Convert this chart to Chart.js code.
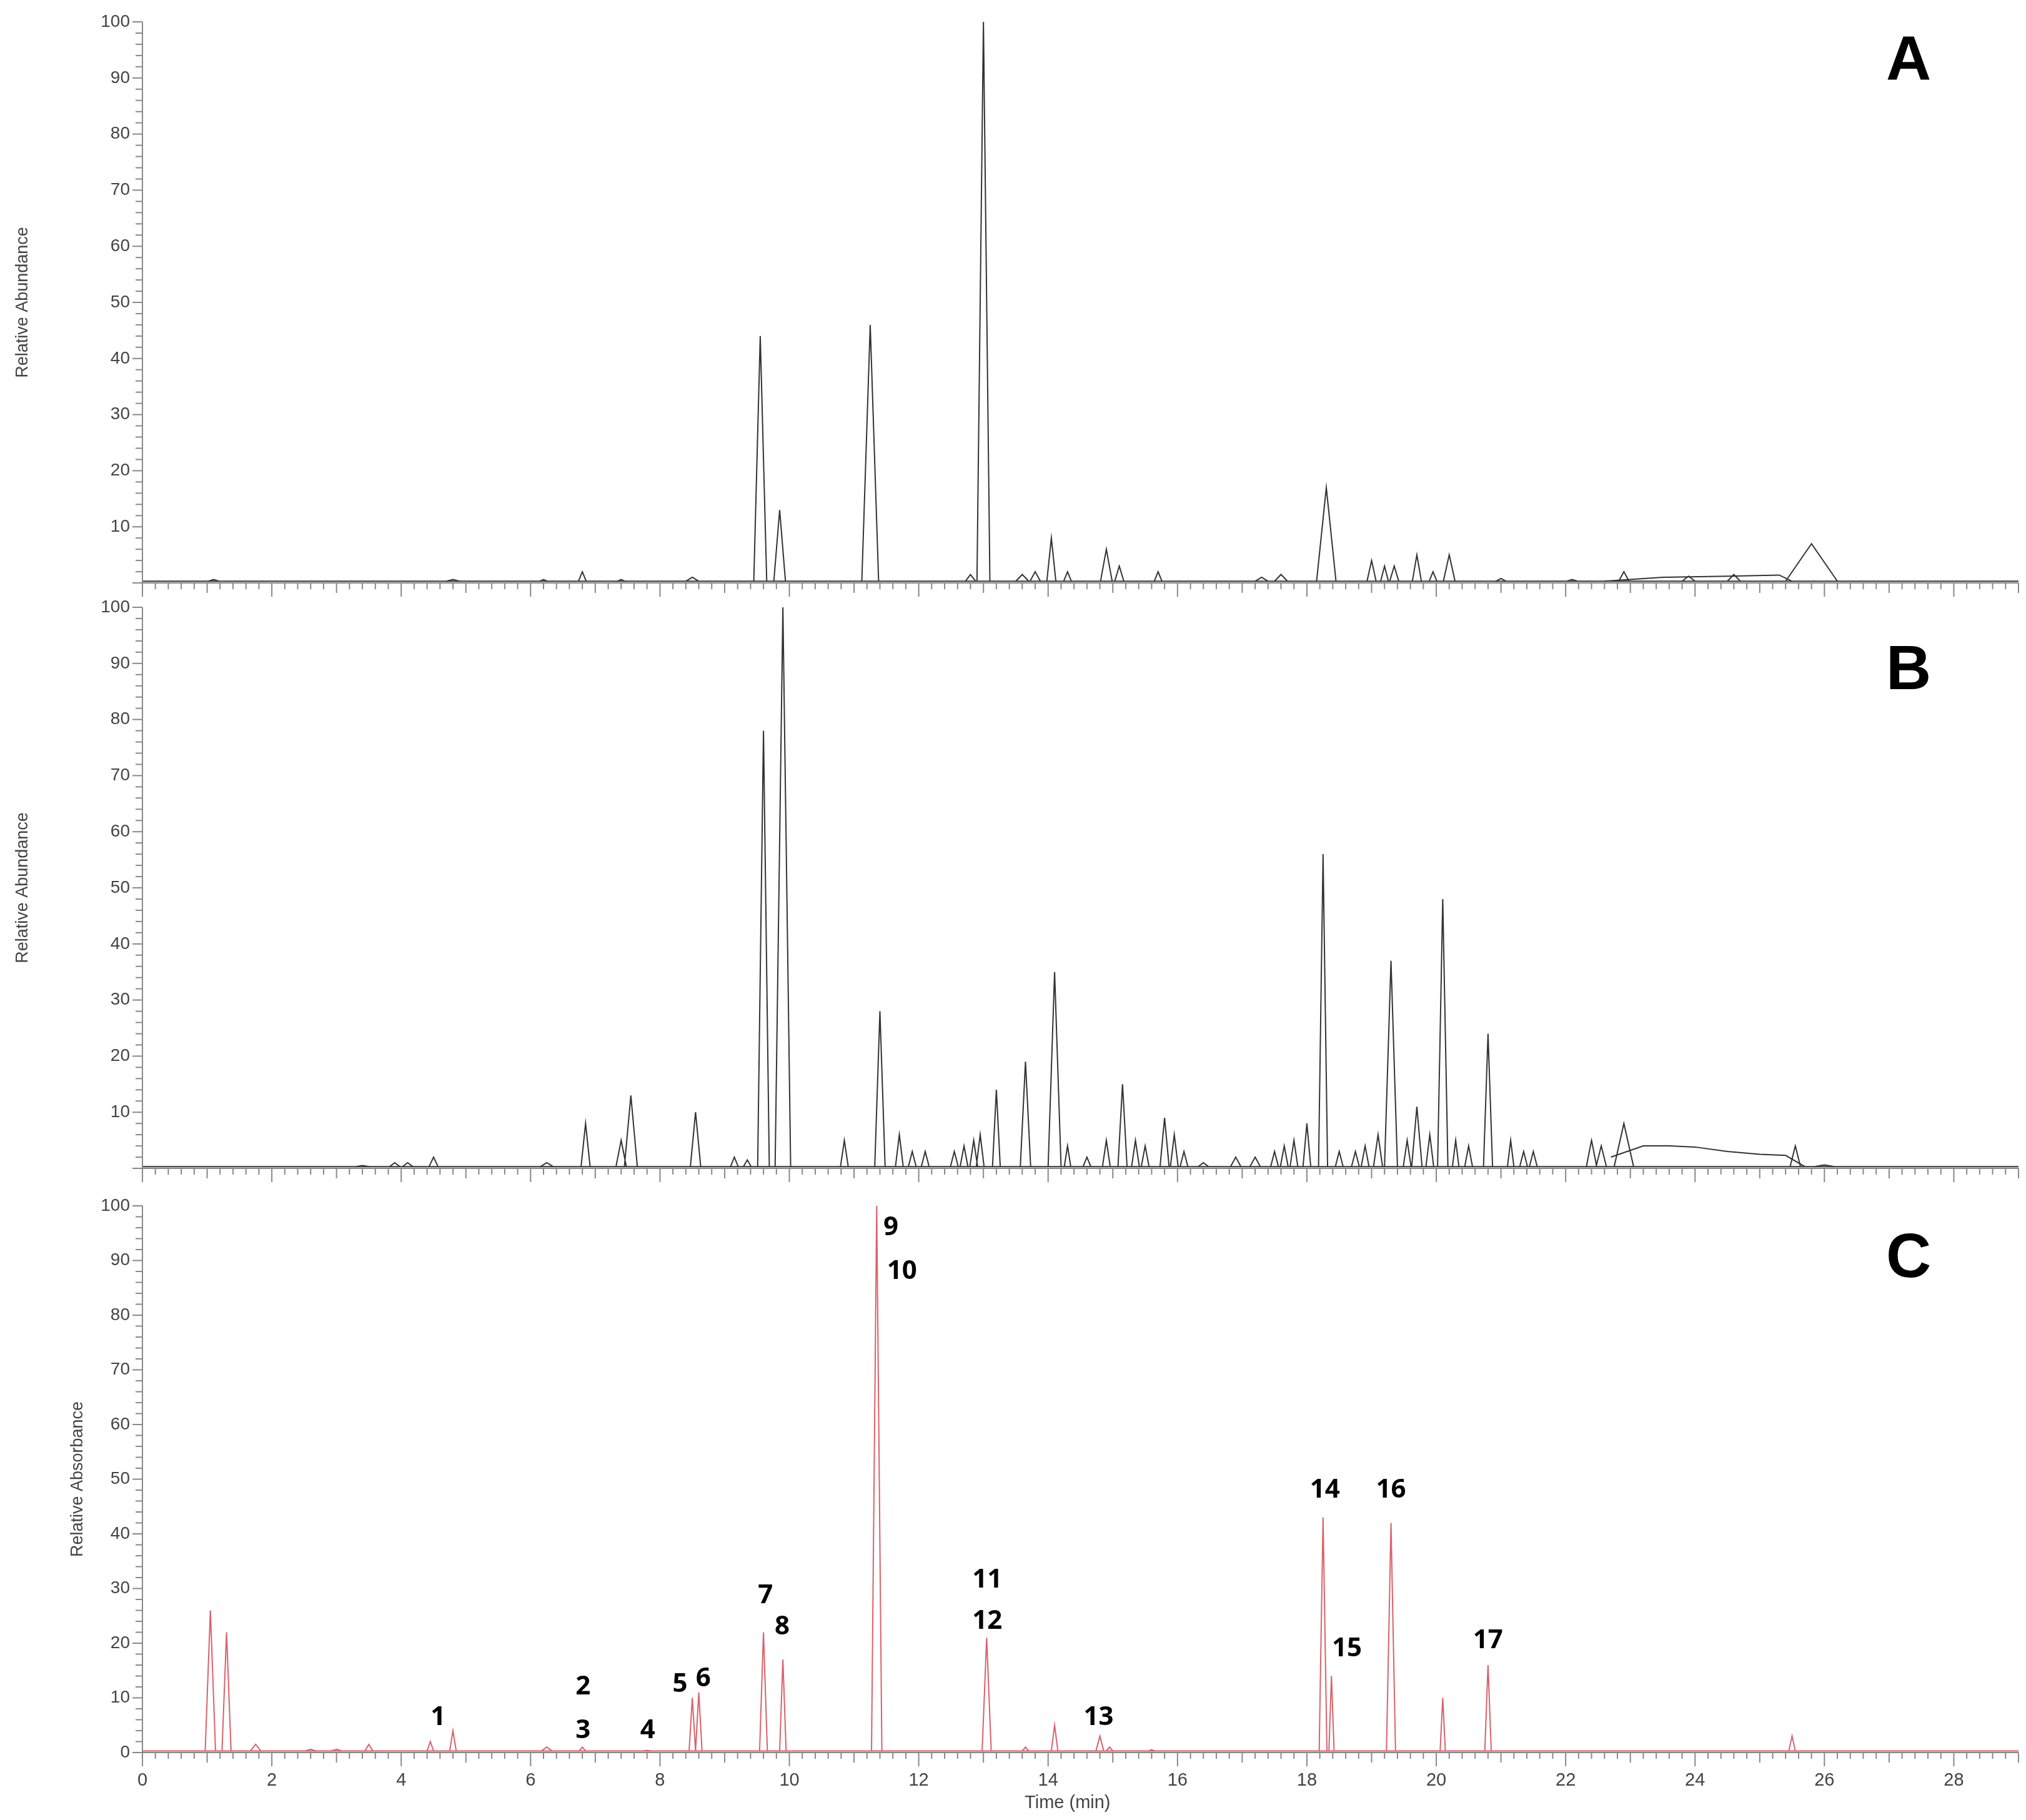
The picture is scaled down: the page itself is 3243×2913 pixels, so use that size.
<!DOCTYPE html>
<html><head><meta charset="utf-8">
<script src="https://cdn.jsdelivr.net/npm/chart.js@4"></script>
<style>body{margin:0;background:#fff;width:3243px;height:2913px;overflow:hidden}
canvas{position:absolute;left:0}</style></head><body>
<div style="position:absolute;left:0;top:0;width:3243px;height:960px"><canvas id="cA"></canvas></div>
<div style="position:absolute;left:0;top:960px;width:3243px;height:937px"><canvas id="cB"></canvas></div>
<div style="position:absolute;left:0;top:1897px;width:3243px;height:1016px"><canvas id="cC"></canvas></div>
<script>
// ---- data (retention time min, relative height %, half width min)
const peaksA_t = [1.1,4.8,6.2,6.8,7.4,8.5,9.55,9.85,11.25,12.8,13.0,13.6,13.8,14.05,14.3,14.9,15.1,15.7,17.3,17.6,18.3,19.0,19.2,19.35,19.7,19.95,20.2,21.0,22.1,22.9,23.9,24.6,25.8];
const peaksA_h = [0.6,0.6,0.6,2,0.6,1,44,13,46,1.5,100,1.5,2,8,2,6,3,2,1,1.5,17,4,3,3,5,2,5,0.8,0.6,2,1.2,1.5,7];
const peaksA_w = [0.08,0.1,0.06,0.06,0.06,0.1,0.1,0.09,0.13,0.08,0.1,0.1,0.08,0.07,0.06,0.09,0.07,0.06,0.1,0.1,0.15,0.07,0.06,0.07,0.07,0.06,0.09,0.08,0.08,0.08,0.1,0.1,0.4];
const humpA_t = [22.6,23.5,24.5,25.3,25.5];
const humpA_h = [0.3,1.0,1.2,1.4,0.3];

const peaksB_t = [3.4,3.9,4.1,4.5,6.25,6.85,7.4,7.55,8.55,9.15,9.35,9.6,9.9,10.85,11.4,11.7,11.9,12.1,12.55,12.7,12.85,12.95,13.2,13.65,14.1,14.3,14.6,14.9,15.15,15.35,15.5,15.8,15.95,16.1,16.4,16.9,17.2,17.5,17.65,17.8,18.0,18.25,18.5,18.75,18.9,19.1,19.3,19.55,19.7,19.9,20.1,20.3,20.5,20.8,21.15,21.35,21.5,22.4,22.55,22.9,25.55,26.0];
const peaksB_h = [0.5,1,1,2,1,8,5,13,10,2,1.5,78,100,5,28,6,3,3,3,4,5,6,14,19,35,4,2,5,15,5,4,9,6,3,1,2,2,3,4,5,8,56,3,3,4,6,37,5,11,6,48,5,4,24,5,3,3,5,4,8,4,0.6];
const peaksB_w = [0.1,0.08,0.08,0.07,0.1,0.07,0.08,0.1,0.08,0.06,0.06,0.09,0.12,0.06,0.08,0.06,0.06,0.06,0.06,0.06,0.06,0.06,0.06,0.08,0.1,0.05,0.06,0.06,0.07,0.06,0.06,0.07,0.06,0.06,0.08,0.08,0.08,0.06,0.06,0.06,0.06,0.07,0.06,0.06,0.06,0.07,0.1,0.06,0.08,0.06,0.08,0.05,0.06,0.07,0.05,0.06,0.06,0.08,0.08,0.15,0.08,0.15];
const humpB_t = [22.7,23.2,23.6,24.0,24.5,25.0,25.4,25.7];
const humpB_h = [2,4,4,3.8,3,2.5,2.3,0.3];

const peaksC_t = [1.05,1.3,1.75,2.6,3.0,3.5,4.45,4.8,6.25,6.8,7.8,8.5,8.6,9.6,9.9,11.35,13.05,13.65,14.1,14.8,14.95,15.6,18.25,18.38,19.3,20.1,20.8,25.5];
const peaksC_h = [26,22,1.5,0.6,0.6,1.5,2,4,1,1,0.4,10,11,22,17,100,21,1,5,3,1,0.5,43,14,42,10,16,3];
const peaksC_w = [0.08,0.07,0.08,0.08,0.08,0.06,0.05,0.05,0.08,0.05,0.05,0.05,0.05,0.06,0.05,0.08,0.07,0.05,0.05,0.06,0.05,0.05,0.06,0.04,0.07,0.04,0.05,0.05];

const labelsC = ['1','2','3','4','5','6','7','8','9','10','11','12','13','14','15','16','17'];
const labelsC_t = [4.56,6.8,6.8,7.8,8.3,8.66,9.62,9.88,11.56,11.72,13.04,13.04,14.76,18.26,18.6,19.28,20.78];
const labelsC_y = [6.4,12,4,4,12.5,13.5,28.7,23,96,88,31.5,24,6.4,48,19,48,20.4];

const xTicks = [0,2,4,6,8,10,12,14,16,18,20,22,24,26,28];
const yTicks = [10,20,30,40,50,60,70,80,90,100];

function tri(ts,hs,ws){const d=[{x:0,y:0.3}];
  for(let i=0;i<ts.length;i++){d.push({x:ts[i]-ws[i],y:0.3},{x:ts[i],y:hs[i]},{x:ts[i]+ws[i],y:0.3});}
  d.push({x:29,y:0.3});d.sort((a,b)=>a.x-b.x);return d;}
function seg(ts,hs){return ts.map((t,i)=>({x:t,y:hs[i]}));}
function peakData(ts,hs,ws){const d=[];for(let i=0;i<ts.length;i++){d.push({x:ts[i]-ws[i],y:0.3},{x:ts[i],y:hs[i]},{x:ts[i]+ws[i],y:0.3},{x:ts[i]+ws[i],y:null});}return d;}

const minorTicks={id:'minor',afterDraw(ch,args,o){const c=ch.ctx,x=ch.scales.x,y=ch.scales.y;c.save();c.strokeStyle='#888';c.lineWidth=2;
  for(let v=0;v<=100;v+=2){const p=y.getPixelForValue(v);const L=v%10===0?16:11;c.beginPath();c.moveTo(x.left-L,p);c.lineTo(x.left,p);c.stroke();}
  for(let v=0;v<=29.001;v+=0.2){const p=x.getPixelForValue(v);const r=Math.round(v*10);const L=r%20===0?22:(r%10===0?16:10);c.beginPath();c.moveTo(p,y.bottom);c.lineTo(p,y.bottom+L);c.stroke();}
  c.beginPath();c.moveTo(x.left,y.top);c.lineTo(x.left,y.bottom);c.lineTo(x.right,y.bottom);c.stroke();
  c.fillStyle='#444';c.font='28px "Liberation Sans", Arial';c.textAlign='right';c.textBaseline='middle';
  yTicks.forEach(v=>c.fillText(String(v),x.left-20,y.getPixelForValue(v)));
  if(o.zero) c.fillText('0',x.left-20,y.getPixelForValue(0));
  c.save();c.translate(o.titleX,(y.top+y.bottom)/2);c.rotate(-Math.PI/2);c.textAlign='center';c.font='27px "Liberation Sans", Arial';c.fillText(o.title,0,0);c.restore();
  c.fillStyle='#000';c.font='bold 100px "Liberation Sans", Arial';c.textAlign='center';c.textBaseline='middle';c.fillText(o.letter,3055,o.letterY);
  if(o.labels){c.font='bold 42px "Open Sans", "Liberation Sans"';c.textAlign='left';
    labelsC.forEach((s,i)=>c.fillText(s,x.getPixelForValue(labelsC_t[i])-(s.length>1?22:11),y.getPixelForValue(labelsC_y[i])));}
  if(o.xlabels){c.fillStyle='#444';c.font='29px "Liberation Sans", Arial';c.textAlign='center';c.textBaseline='top';
    xTicks.forEach(v=>c.fillText(String(v),x.getPixelForValue(v),y.bottom+30));
    c.fillText('Time (min)',x.getPixelForValue(14.3),y.bottom+66);}
  c.restore();}};

function make(id,datasets,color,padTop,xH,o){
  return new Chart(document.getElementById(id),{type:'line',
    data:{datasets:datasets.map(d=>({data:d,borderColor:color,borderWidth:2,pointRadius:0,tension:0,spanGaps:false,fill:false}))},
    options:{responsive:true,maintainAspectRatio:false,animation:false,parsing:true,
      layout:{padding:{top:padTop,right:12,left:0,bottom:0}},
      plugins:{legend:{display:false},tooltip:{enabled:false},minor:o},
      scales:{x:{type:'linear',min:0,max:29,grid:{display:false},border:{display:false},ticks:{display:false},afterFit:s=>{s.height=xH;}},
              y:{min:0,max:100,grid:{display:false},border:{display:false},ticks:{display:false},afterFit:s=>{s.width=228;}}}},
    plugins:[minorTicks]});}

make('cA',[peakData(peaksA_t,peaksA_h,peaksA_w),seg(humpA_t,humpA_h),[{x:0,y:0.3},{x:29,y:0.3}]],'#333',35,27,{title:'Relative Abundance',titleX:37,letter:'A',letterY:100});
make('cB',[peakData(peaksB_t,peaksB_h,peaksB_w),seg(humpB_t,humpB_h),[{x:0,y:0.3},{x:29,y:0.3}]],'#333',12,27,{title:'Relative Abundance',titleX:37,letter:'B',letterY:115});
make('cC',[peakData(peaksC_t,peaksC_h,peaksC_w),[{x:0,y:0.3},{x:29,y:0.3}]],'#d9626a',33,108,{title:'Relative Absorbance',titleX:125,letter:'C',letterY:119,labels:true,xlabels:true,zero:true});
</script></body></html>
